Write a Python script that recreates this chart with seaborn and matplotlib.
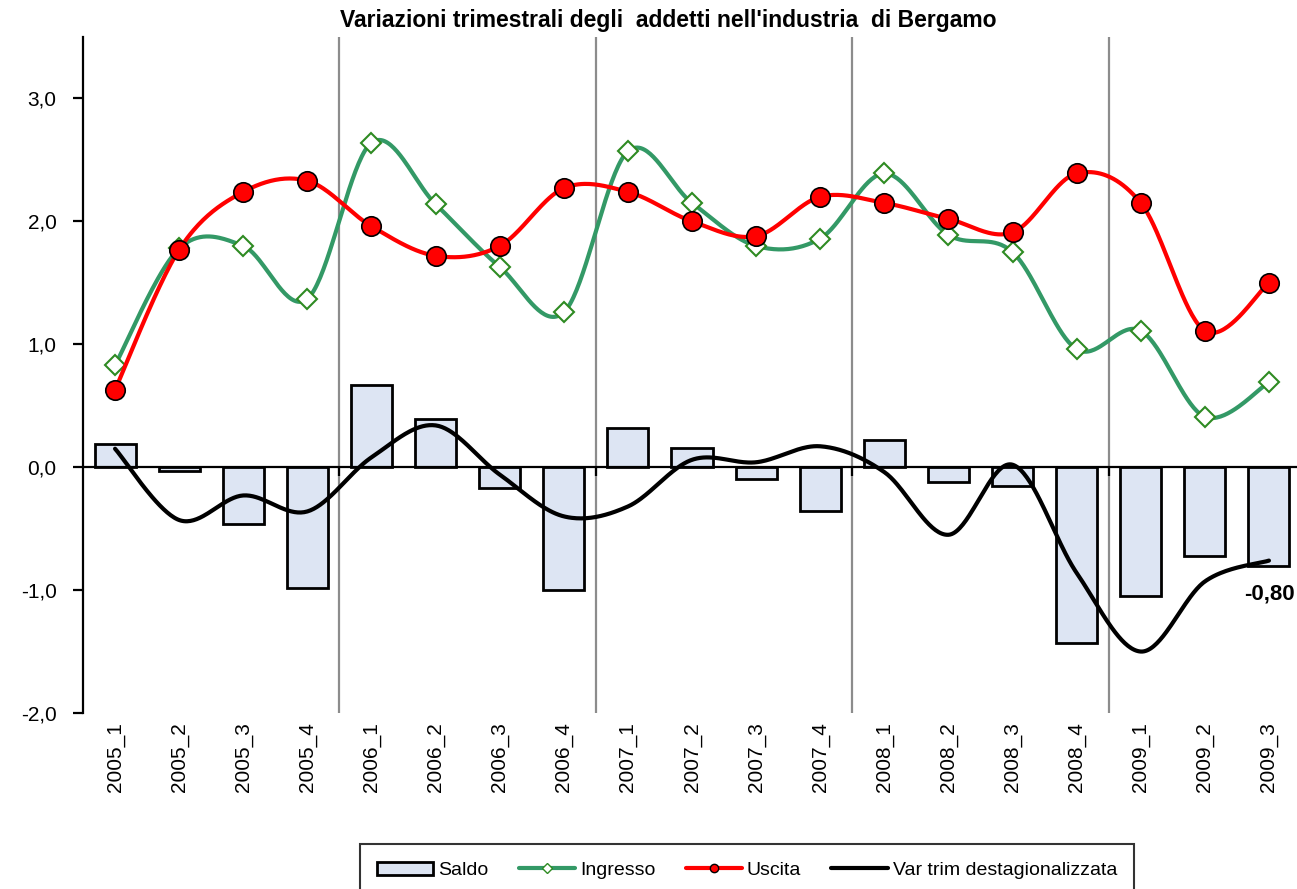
import numpy as np
import pandas as pd
import seaborn as sns
import matplotlib.pyplot as plt
from matplotlib.lines import Line2D
from matplotlib.patches import Patch

trimestri = ['2005_1', '2005_2', '2005_3', '2005_4',
             '2006_1', '2006_2', '2006_3', '2006_4',
             '2007_1', '2007_2', '2007_3', '2007_4',
             '2008_1', '2008_2', '2008_3', '2008_4',
             '2009_1', '2009_2', '2009_3']
saldo = [0.19, -0.03, -0.46, -0.98, 0.67, 0.39, -0.17, -1.00, 0.32, 0.16,
         -0.10, -0.36, 0.22, -0.12, -0.15, -1.43, -1.05, -0.72, -0.80]
ingresso = [0.83, 1.78, 1.80, 1.37, 2.64, 2.14, 1.63, 1.26, 2.57, 2.15,
            1.80, 1.86, 2.39, 1.89, 1.75, 0.96, 1.11, 0.41, 0.69]
uscita = [0.63, 1.77, 2.24, 2.33, 1.96, 1.72, 1.80, 2.27, 2.24, 2.00,
          1.88, 2.20, 2.15, 2.02, 1.91, 2.39, 2.15, 1.11, 1.50]
destag = [0.15, -0.43, -0.23, -0.36, 0.08, 0.34, -0.06, -0.40, -0.32, 0.06,
          0.04, 0.17, -0.04, -0.55, 0.02, -0.86, -1.50, -0.93, -0.76]
yticks = [-2.0, -1.0, 0.0, 1.0, 2.0, 3.0]
separatori = [3.5, 7.5, 11.5, 15.5]


def smooth(y, n=40):
    # curva smussata tipo Excel (Bezier con tangenti Catmull-Rom)
    y = np.asarray(y, float)
    x = np.arange(len(y), dtype=float)
    px = np.concatenate([[x[0]], x, [x[-1]]])
    py = np.concatenate([[y[0]], y, [y[-1]]])
    t = np.linspace(0, 1, n, endpoint=False)
    xs, ys = [], []
    for i in range(len(y) - 1):
        for p, out in ((px, xs), (py, ys)):
            p0, p1, p2, p3 = p[i], p[i + 1], p[i + 2], p[i + 3]
            c1 = p1 + (p2 - p0) / 6
            c2 = p2 - (p3 - p1) / 6
            out.extend((1 - t) ** 3 * p1 + 3 * (1 - t) ** 2 * t * c1
                       + 3 * (1 - t) * t ** 2 * c2 + t ** 3 * p2)
    xs.append(x[-1])
    ys.append(y[-1])
    return np.array(xs), np.array(ys)


sns.set_theme(style='white')
plt.rcParams['font.family'] = ['Liberation Sans', 'DejaVu Sans']
plt.rcParams['text.color'] = 'black'

fig = plt.figure(figsize=(12.97, 8.89), dpi=100)
ax = fig.add_axes([83 / 1297, 176 / 889, 1218 / 1297, 676 / 889])

verde = '#339966'
rosso = '#ff0000'
barra = '#dde5f3'

for s in separatori:
    ax.axvline(s, color='#8c8c8c', lw=1.6, zorder=0)

df = pd.DataFrame({'trimestre': trimestri, 'saldo': saldo})
sns.barplot(data=df, x='trimestre', y='saldo', color=barra, saturation=1,
            edgecolor='black', linewidth=2, width=0.64, ax=ax, zorder=2)

ax.axhline(0, color='black', lw=1.6, zorder=3)
ax.vlines(separatori, -0.07, 0, color='black', lw=1.6, zorder=3)

pos = np.arange(len(trimestri))

xs, ys = smooth(destag)
sns.lineplot(x=xs, y=ys, color='black', lw=3, sort=False, ax=ax, zorder=4)

xs, ys = smooth(ingresso)
sns.lineplot(x=xs, y=ys, color=verde, lw=3, sort=False, ax=ax, zorder=5)
ax.plot(pos, ingresso, ls='none', marker='D', ms=10, mfc='white',
        mec='#2e8b22', mew=1.5, zorder=6)

xs, ys = smooth(uscita)
sns.lineplot(x=xs, y=ys, color=rosso, lw=3, sort=False, ax=ax, zorder=7)
ax.plot(pos, uscita, ls='none', marker='o', ms=14, mfc=rosso,
        mec='black', mew=1.2, zorder=8)

ax.text(pos[-1] - 0.38, saldo[-1] - 0.23, f'{saldo[-1]:.2f}'.replace('.', ','),
        fontsize=16, fontweight='bold', ha='left', va='center', zorder=9)

ax.set_xlim(-0.5, len(trimestri) - 0.5)
ax.set_ylim(-2.0, 3.5)
ax.set_yticks(yticks)
ax.set_yticklabels([f'{v:.1f}'.replace('.', ',') for v in yticks])
ax.set_xticks(pos)
ax.set_xticklabels(trimestri, rotation=90, va='top')
ax.tick_params(axis='y', length=7, width=1.6, direction='out', pad=12,
               labelsize=15, left=True, colors='black')
ax.tick_params(axis='x', length=0, pad=6.5, labelsize=15, colors='black')
ax.set_xlabel('')
ax.set_ylabel('')
for side in ['top', 'right', 'bottom']:
    ax.spines[side].set_visible(False)
ax.spines['left'].set_color('black')
ax.spines['left'].set_linewidth(1.6)

fig.text(668 / 1297, 1 - 20 / 889,
         "Variazioni trimestrali degli  addetti nell'industria  di Bergamo",
         ha='center', va='center', fontsize=16.5, fontweight='bold',
         color='black')

handles = [
    Patch(facecolor=barra, edgecolor='black', linewidth=2, label='Saldo'),
    Line2D([], [], color=verde, lw=3, marker='D', ms=5, mfc='white',
           mec='#2e8b22', label='Ingresso'),
    Line2D([], [], color=rosso, lw=3, marker='o', ms=6, mfc=rosso,
           mec='black', label='Uscita'),
    Line2D([], [], color='black', lw=3, label='Var trim destagionalizzata'),
]
leg = fig.legend(handles=handles, loc='upper center', ncol=4,
                 bbox_to_anchor=(747 / 1297, 1 - 844 / 889), fontsize=14,
                 frameon=True, fancybox=False, handlelength=2.9,
                 handletextpad=0.25, columnspacing=1.55, borderpad=0.9,
                 borderaxespad=0)
leg.get_frame().set_edgecolor('black')
leg.get_frame().set_linewidth(1.5)
for t in leg.get_texts():
    t.set_color('black')

fig.savefig('out.png', dpi=100)
